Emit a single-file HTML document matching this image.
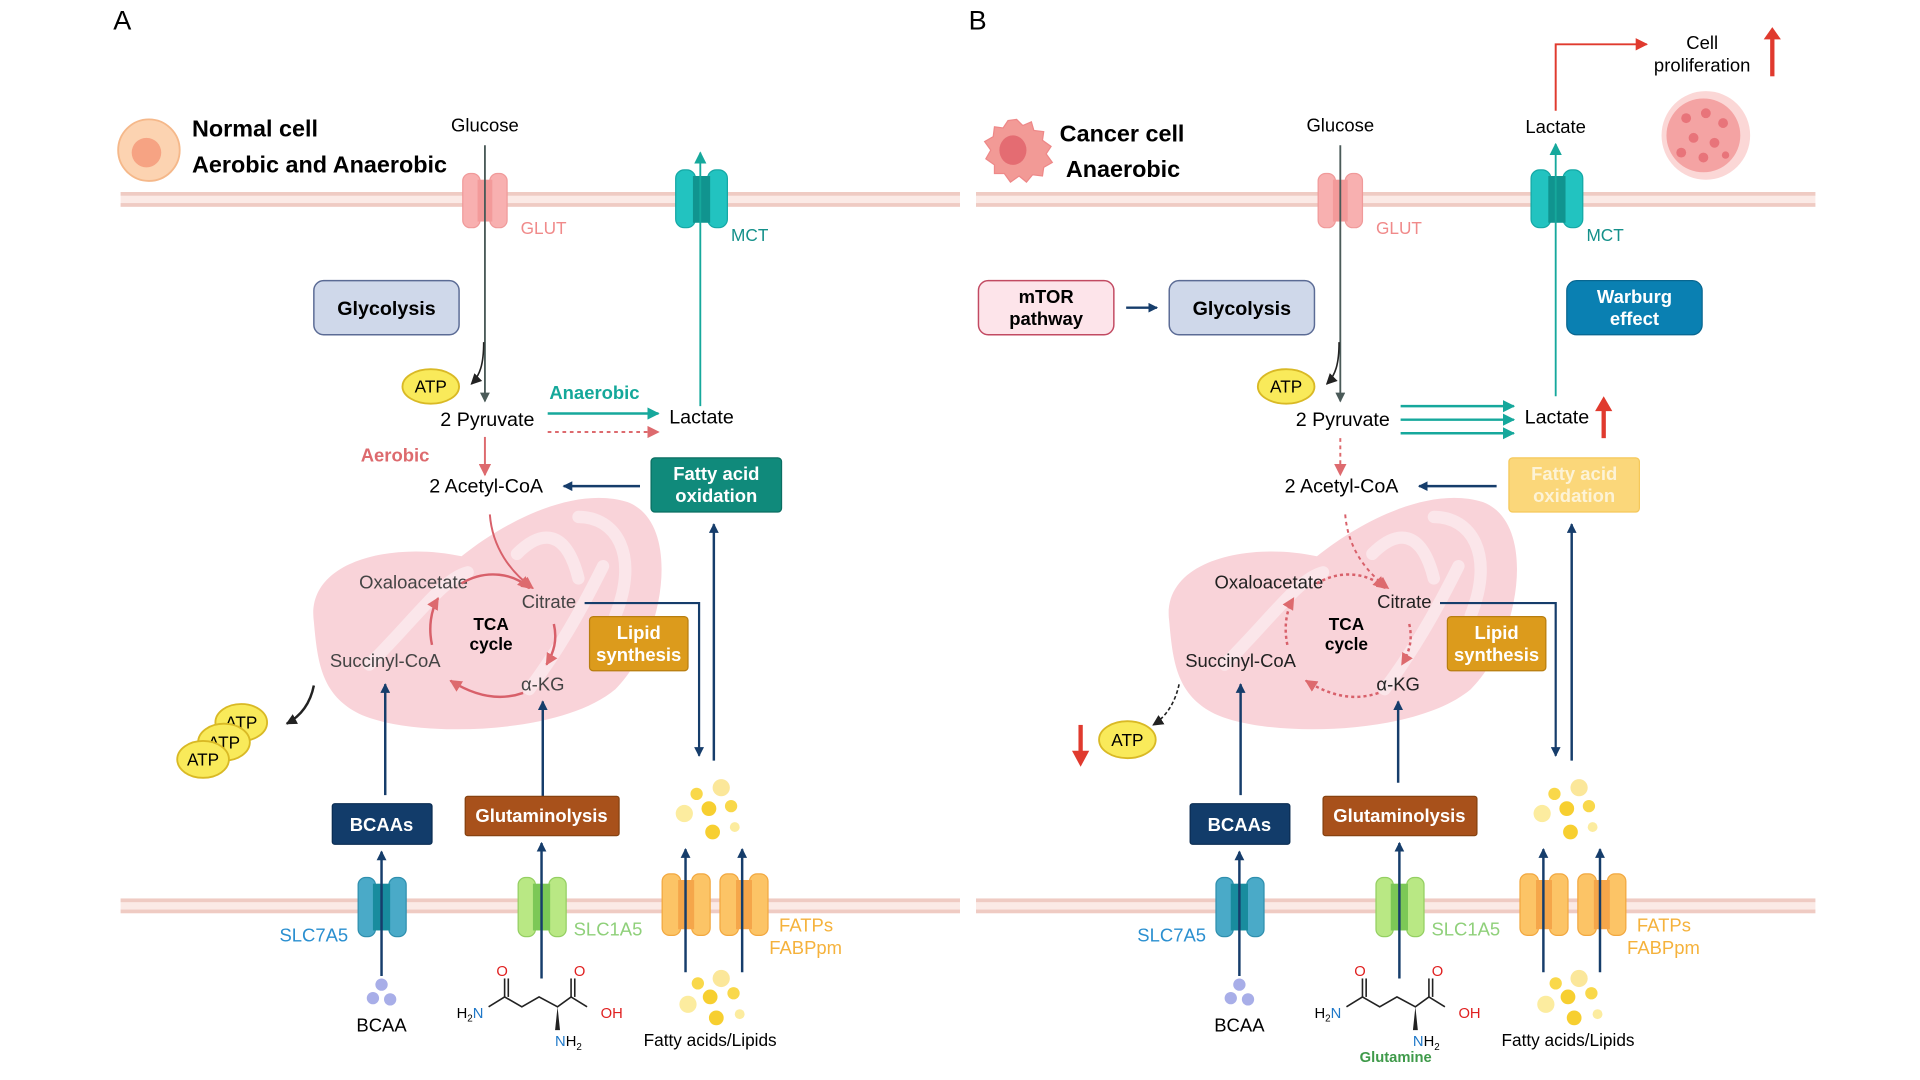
<!DOCTYPE html>
<html><head><meta charset="utf-8">
<style>
html,body{margin:0;padding:0;background:#fff;width:1920px;height:1080px;overflow:hidden}
svg{display:block}
text{font-family:"Liberation Sans",sans-serif}
</style></head>
<body>
<svg width="1920" height="1080" viewBox="0 0 1560 877.5" xmlns="http://www.w3.org/2000/svg">
<defs>
<marker id="aN" markerWidth="8" markerHeight="8" refX="7" refY="4" orient="auto" markerUnits="userSpaceOnUse"><path d="M0,0 L8,4 L0,8 Z" fill="#163d6b"/></marker>
<marker id="aG" markerWidth="8" markerHeight="8" refX="7" refY="4" orient="auto" markerUnits="userSpaceOnUse"><path d="M0,0 L8,4 L0,8 Z" fill="#4a5a58"/></marker>
<marker id="aT" markerWidth="10" markerHeight="10" refX="9" refY="5" orient="auto" markerUnits="userSpaceOnUse"><path d="M0,0 L10,5 L0,10 Z" fill="#16a89c"/></marker>
<marker id="aP" markerWidth="10" markerHeight="10" refX="9" refY="5" orient="auto" markerUnits="userSpaceOnUse"><path d="M0,0 L10,5 L0,10 Z" fill="#dd6a6e"/></marker>
<marker id="aK" markerWidth="9" markerHeight="9" refX="8" refY="4.5" orient="auto" markerUnits="userSpaceOnUse"><path d="M0,0 L9,4.5 L0,9 Z" fill="#222"/></marker>
<marker id="aR" markerWidth="10" markerHeight="10" refX="9" refY="5" orient="auto" markerUnits="userSpaceOnUse"><path d="M0,0 L10,5 L0,10 Z" fill="#e03a2e"/></marker>
</defs>

<!-- ================= PANEL A ================= -->
<text x="92" y="24" font-size="22">A</text>
<!-- membranes -->
<g>
<rect x="98" y="156" width="682" height="12" fill="#fbeae6"/>
<rect x="98" y="156" width="682" height="3" fill="#efcbc3"/>
<rect x="98" y="165" width="682" height="3" fill="#efcbc3"/>
<rect x="98" y="730" width="682" height="12" fill="#fbeae6"/>
<rect x="98" y="730" width="682" height="3" fill="#efcbc3"/>
<rect x="98" y="739" width="682" height="3" fill="#efcbc3"/>
</g>
<circle cx="121" cy="122" r="25" fill="#fcd3b1" stroke="#f5b88a" stroke-width="1.5"/>
<circle cx="119" cy="124" r="12" fill="#f6a383"/>
<text x="156" y="111" font-size="19" font-weight="bold">Normal cell</text>
<text x="156" y="140" font-size="19" font-weight="bold">Aerobic and Anaerobic</text>

<!-- GLUT -->
<rect x="376" y="141" width="14" height="44" rx="6" fill="#f8b0b0" stroke="#f09a9a"/>
<rect x="398" y="141" width="14" height="44" rx="6" fill="#f8b0b0" stroke="#f09a9a"/>
<rect x="388" y="146" width="12" height="34" fill="#f39a9a"/>
<text x="423" y="190" font-size="14" fill="#f08a8a">GLUT</text>
<text x="394" y="107" font-size="15" text-anchor="middle">Glucose</text>
<line x1="394" y1="118" x2="394" y2="326" stroke="#4a5a58" stroke-width="1.5" marker-end="url(#aG)"/>

<!-- MCT -->
<rect x="549" y="138" width="16" height="47" rx="7" fill="#22c3c0" stroke="#14a8a5"/>
<rect x="575" y="138" width="16" height="47" rx="7" fill="#22c3c0" stroke="#14a8a5"/>
<rect x="563" y="143" width="14" height="38" fill="#10948f"/>
<text x="594" y="196" font-size="14" fill="#14908a">MCT</text>
<line x1="569" y1="330" x2="569" y2="124" stroke="#16a89c" stroke-width="1.5" marker-end="url(#aT)"/>

<rect x="255" y="228" width="118" height="44" rx="8" fill="#cfd8ea" stroke="#5b6b95" stroke-width="1.2"/>
<text x="314" y="256" font-size="16" font-weight="bold" text-anchor="middle">Glycolysis</text>

<ellipse cx="350" cy="314" rx="23" ry="14" fill="#f9ea5a" stroke="#d9b925" stroke-width="1.5"/>
<text x="350" y="319" font-size="14" text-anchor="middle">ATP</text>
<path d="M393,278 C393,296 390,305 383,312" fill="none" stroke="#222" stroke-width="1.3" marker-end="url(#aK)"/>

<text x="396" y="346" font-size="16" text-anchor="middle">2 Pyruvate</text>
<text x="483" y="324" font-size="15" font-weight="bold" fill="#14a89a" text-anchor="middle">Anaerobic</text>
<line x1="445" y1="336" x2="535" y2="336" stroke="#16a89c" stroke-width="2" marker-end="url(#aT)"/>
<line x1="445" y1="351" x2="535" y2="351" stroke="#dd6a6e" stroke-width="1.6" stroke-dasharray="3,3" marker-end="url(#aP)"/>
<text x="570" y="344" font-size="16" text-anchor="middle">Lactate</text>
<text x="321" y="375" font-size="15" font-weight="bold" fill="#dd6a6e" text-anchor="middle">Aerobic</text>
<line x1="394" y1="355" x2="394" y2="386" stroke="#dd6a6e" stroke-width="1.6" marker-end="url(#aP)"/>
<text x="395" y="400" font-size="16" text-anchor="middle">2 Acetyl-CoA</text>

<rect x="529" y="372" width="106" height="44" rx="3" fill="#108a7b" stroke="#0a6e62"/>
<text x="582" y="390" font-size="15" font-weight="bold" fill="#fff" text-anchor="middle">Fatty acid</text>
<text x="582" y="408" font-size="15" font-weight="bold" fill="#fff" text-anchor="middle">oxidation</text>
<line x1="520" y1="395" x2="458" y2="395" stroke="#163d6b" stroke-width="2" marker-end="url(#aN)"/>
<line x1="580" y1="618" x2="580" y2="426" stroke="#163d6b" stroke-width="2" marker-end="url(#aN)"/>

<!-- mitochondrion -->
<path d="M255,505 C248,455 320,440 375,452 C415,420 470,395 510,408 C555,425 540,520 500,560 C455,598 335,600 292,580 C262,565 258,540 255,505 Z" fill="#f9d3d9"/>
<path d="M300,540 C340,500 360,470 380,465 M420,450 C440,430 460,430 470,470 M470,420 C500,420 520,450 500,500 M430,560 C460,520 480,480 490,460" fill="none" stroke="#fbe6ea" stroke-width="10" stroke-linecap="round"/>

<path d="M398,418 C400,445 415,465 433,478" fill="none" stroke="#d8606a" stroke-width="1.6" marker-end="url(#aP)"/>
<text x="336" y="478" font-size="15" fill="#444" text-anchor="middle">Oxaloacetate</text>
<text x="446" y="494" font-size="15" fill="#444" text-anchor="middle">Citrate</text>
<text x="399" y="512" font-size="14" font-weight="bold" text-anchor="middle">TCA</text>
<text x="399" y="528" font-size="14" font-weight="bold" text-anchor="middle">cycle</text>
<text x="313" y="542" font-size="15" fill="#444" text-anchor="middle">Succinyl-CoA</text>
<text x="441" y="561" font-size="15" fill="#444" text-anchor="middle">α-KG</text>
<path d="M375,474 C395,462 418,466 430,478" fill="none" stroke="#d8606a" stroke-width="2" marker-end="url(#aP)"/>
<path d="M450,507 C453,520 450,530 444,540" fill="none" stroke="#d8606a" stroke-width="2" marker-end="url(#aP)"/>
<path d="M425,563 C405,570 385,565 366,553" fill="none" stroke="#d8606a" stroke-width="2" marker-end="url(#aP)"/>
<path d="M351,524 C348,510 350,496 356,486" fill="none" stroke="#d8606a" stroke-width="2" marker-end="url(#aP)"/>
<polyline points="475,490 568,490 568,614" fill="none" stroke="#163d6b" stroke-width="1.8" marker-end="url(#aN)"/>
<rect x="479" y="501" width="80" height="44" rx="3" fill="#dc9b1c" stroke="#b87e10"/>
<text x="519" y="519" font-size="15" font-weight="bold" fill="#fff" text-anchor="middle">Lipid</text>
<text x="519" y="537" font-size="15" font-weight="bold" fill="#fff" text-anchor="middle">synthesis</text>

<ellipse cx="196" cy="587" rx="21" ry="15" fill="#f9ea5a" stroke="#d9b925" stroke-width="1.5"/>
<text x="196" y="592" font-size="14" text-anchor="middle">ATP</text>
<ellipse cx="182" cy="603" rx="21" ry="15" fill="#f9ea5a" stroke="#d9b925" stroke-width="1.5"/>
<text x="182" y="608" font-size="14" text-anchor="middle">ATP</text>
<ellipse cx="165" cy="617" rx="21" ry="15" fill="#f9ea5a" stroke="#d9b925" stroke-width="1.5"/>
<text x="165" y="622" font-size="14" text-anchor="middle">ATP</text>
<path d="M255,557 C252,572 244,582 233,588" fill="none" stroke="#222" stroke-width="2" marker-end="url(#aK)"/>

<line x1="313" y1="646" x2="313" y2="556" stroke="#163d6b" stroke-width="2" marker-end="url(#aN)"/>
<line x1="441" y1="650" x2="441" y2="570" stroke="#163d6b" stroke-width="2" marker-end="url(#aN)"/>

<rect x="270" y="653" width="81" height="33" rx="2" fill="#123c6a" stroke="#0a2c52"/>
<text x="310" y="675" font-size="15" font-weight="bold" fill="#fff" text-anchor="middle">BCAAs</text>
<rect x="378" y="647" width="125" height="32" rx="2" fill="#a8511b" stroke="#84400f"/>
<text x="440" y="668" font-size="15" font-weight="bold" fill="#fff" text-anchor="middle">Glutaminolysis</text>

<g fill="#fbe17a">
<circle cx="586" cy="640" r="7" fill="#fbe79a"/><circle cx="566" cy="645" r="5" fill="#f9d84a"/><circle cx="576" cy="657" r="6" fill="#f7cf30"/><circle cx="594" cy="655" r="5" fill="#f9d84a"/><circle cx="556" cy="661" r="7" fill="#fcec9f"/><circle cx="579" cy="676" r="6" fill="#f7cf30"/><circle cx="597" cy="672" r="4" fill="#fcec9f"/>
</g>

<!-- bottom transporters A -->
<rect x="291" y="713" width="14" height="48" rx="6" fill="#4aaac8" stroke="#2f8fae"/>
<rect x="316" y="713" width="14" height="48" rx="6" fill="#4aaac8" stroke="#2f8fae"/>
<rect x="303" y="718" width="14" height="38" fill="#188c9e"/>
<text x="255" y="765" font-size="15" fill="#2a8fd0" text-anchor="middle">SLC7A5</text>
<rect x="421" y="713" width="14" height="48" rx="6" fill="#b9e884" stroke="#94cf62"/>
<rect x="446" y="713" width="14" height="48" rx="6" fill="#b9e884" stroke="#94cf62"/>
<rect x="433" y="718" width="14" height="38" fill="#7cc856"/>
<text x="494" y="760" font-size="15" fill="#8fd07a" text-anchor="middle">SLC1A5</text>
<rect x="538" y="710" width="15" height="50" rx="6" fill="#fcc466" stroke="#f2a840"/>
<rect x="562" y="710" width="15" height="50" rx="6" fill="#fcc466" stroke="#f2a840"/>
<rect x="551" y="715" width="13" height="40" fill="#f5a64a"/>
<rect x="585" y="710" width="15" height="50" rx="6" fill="#fcc466" stroke="#f2a840"/>
<rect x="609" y="710" width="15" height="50" rx="6" fill="#fcc466" stroke="#f2a840"/>
<rect x="598" y="715" width="13" height="40" fill="#f5a64a"/>
<text x="633" y="757" font-size="15" fill="#f5b23c">FATPs</text>
<text x="625" y="775" font-size="15" fill="#f5b23c">FABPpm</text>
<line x1="310" y1="793" x2="310" y2="692" stroke="#163d6b" stroke-width="2" marker-end="url(#aN)"/>
<line x1="440" y1="795" x2="440" y2="685" stroke="#163d6b" stroke-width="2" marker-end="url(#aN)"/>
<line x1="557" y1="790" x2="557" y2="690" stroke="#163d6b" stroke-width="2" marker-end="url(#aN)"/>
<line x1="603" y1="790" x2="603" y2="690" stroke="#163d6b" stroke-width="2" marker-end="url(#aN)"/>
<circle cx="310" cy="800" r="5" fill="#a8aee8"/><circle cx="303" cy="811" r="5" fill="#a8aee8"/><circle cx="317" cy="812" r="5" fill="#a8aee8"/>
<text x="310" y="838" font-size="15" text-anchor="middle">BCAA</text>
<!-- glutamine A -->
<g stroke="#222" stroke-width="1.3" fill="none">
<polyline points="397,818 410,810 424,818 438,810 453,818 464,810 477,818"/>
<line x1="410" y1="810" x2="410" y2="795"/><line x1="413" y1="810" x2="413" y2="795"/>
<line x1="464" y1="810" x2="464" y2="795"/><line x1="467" y1="810" x2="467" y2="795"/>
</g>
<polygon points="453,818 451,837 455,837" fill="#222"/>
<text x="408" y="793" font-size="12" fill="#e02020" text-anchor="middle">O</text>
<text x="471" y="793" font-size="12" fill="#e02020" text-anchor="middle">O</text>
<text x="371" y="827" font-size="12">H<tspan font-size="8" dy="3">2</tspan><tspan fill="#1f78c8" dy="-3">N</tspan></text>
<text x="488" y="827" font-size="12" fill="#e02020">OH</text>
<text x="451" y="850" font-size="12"><tspan fill="#1f78c8">N</tspan>H<tspan font-size="8" dy="3">2</tspan></text>
<circle cx="586" cy="795" r="7" fill="#fbe79a"/><circle cx="567" cy="799" r="5" fill="#f9d84a"/><circle cx="577" cy="810" r="6" fill="#f7cf30"/><circle cx="596" cy="807" r="5" fill="#f9d84a"/><circle cx="559" cy="816" r="7" fill="#fcec9f"/><circle cx="582" cy="827" r="6" fill="#f7cf30"/><circle cx="601" cy="824" r="4" fill="#fcec9f"/>
<text x="577" y="850" font-size="14" text-anchor="middle">Fatty acids/Lipids</text>

<!-- ================= PANEL B ================= -->
<text x="787" y="24" font-size="22">B</text>
<rect x="793" y="156" width="682" height="12" fill="#fbeae6"/>
<rect x="793" y="156" width="682" height="3" fill="#efcbc3"/>
<rect x="793" y="165" width="682" height="3" fill="#efcbc3"/>
<rect x="793" y="730" width="682" height="12" fill="#fbeae6"/>
<rect x="793" y="730" width="682" height="3" fill="#efcbc3"/>
<rect x="793" y="739" width="682" height="3" fill="#efcbc3"/>

<path d="M826,97 L831,102 L838,99 L840,106 L848,107 L847,114 L854,119 L850,125 L855,132 L848,136 L847,143 L839,142 L834,148 L828,143 L821,148 L816,141 L808,141 L808,134 L801,129 L805,122 L800,115 L807,111 L808,103 L815,104 L819,98 Z" fill="#f29a96" stroke="#ee8888"/>
<ellipse cx="823" cy="122" rx="11" ry="12" fill="#e46c72"/>
<text x="861" y="115" font-size="19" font-weight="bold">Cancer cell</text>
<text x="866" y="144" font-size="19" font-weight="bold">Anaerobic</text>

<rect x="1071" y="141" width="14" height="44" rx="6" fill="#f8b0b0" stroke="#f09a9a"/>
<rect x="1093" y="141" width="14" height="44" rx="6" fill="#f8b0b0" stroke="#f09a9a"/>
<rect x="1083" y="146" width="12" height="34" fill="#f39a9a"/>
<text x="1118" y="190" font-size="14" fill="#f08a8a">GLUT</text>
<text x="1089" y="107" font-size="15" text-anchor="middle">Glucose</text>
<line x1="1089" y1="118" x2="1089" y2="326" stroke="#4a5a58" stroke-width="1.5" marker-end="url(#aG)"/>

<rect x="1244" y="138" width="16" height="47" rx="7" fill="#22c3c0" stroke="#14a8a5"/>
<rect x="1270" y="138" width="16" height="47" rx="7" fill="#22c3c0" stroke="#14a8a5"/>
<rect x="1258" y="143" width="14" height="38" fill="#10948f"/>
<text x="1289" y="196" font-size="14" fill="#14908a">MCT</text>
<line x1="1264" y1="322" x2="1264" y2="117" stroke="#16a89c" stroke-width="1.5" marker-end="url(#aT)"/>
<text x="1264" y="108" font-size="15" text-anchor="middle">Lactate</text>
<polyline points="1264,90 1264,36 1338,36" fill="none" stroke="#e03a2e" stroke-width="1.6" marker-end="url(#aR)"/>
<text x="1383" y="40" font-size="15" text-anchor="middle">Cell</text>
<text x="1383" y="58" font-size="15" text-anchor="middle">proliferation</text>
<line x1="1440" y1="62" x2="1440" y2="30" stroke="#e03a2e" stroke-width="3.5"/>
<polygon points="1433,32 1447,32 1440,22" fill="#e03a2e"/>
<!-- tumor -->
<circle cx="1386" cy="110" r="36" fill="#fbd7d6"/>
<circle cx="1384" cy="110" r="30" fill="#f4a3a3"/>
<g fill="#e8747a">
<circle cx="1370" cy="96" r="4"/><circle cx="1386" cy="92" r="4"/><circle cx="1400" cy="100" r="4"/><circle cx="1376" cy="112" r="4"/><circle cx="1393" cy="116" r="4"/><circle cx="1366" cy="124" r="4"/><circle cx="1384" cy="128" r="4"/><circle cx="1402" cy="126" r="3"/>
</g>

<rect x="795" y="228" width="110" height="44" rx="8" fill="#fde4ea" stroke="#c24a62" stroke-width="1.2"/>
<text x="850" y="246" font-size="15" font-weight="bold" text-anchor="middle">mTOR</text>
<text x="850" y="264" font-size="15" font-weight="bold" text-anchor="middle">pathway</text>
<line x1="915" y1="250" x2="940" y2="250" stroke="#163d6b" stroke-width="2" marker-end="url(#aN)"/>
<rect x="950" y="228" width="118" height="44" rx="8" fill="#cfd8ea" stroke="#5b6b95" stroke-width="1.2"/>
<text x="1009" y="256" font-size="16" font-weight="bold" text-anchor="middle">Glycolysis</text>
<rect x="1273" y="228" width="110" height="44" rx="8" fill="#0a80b2" stroke="#086690"/>
<text x="1328" y="246" font-size="15" font-weight="bold" fill="#fff" text-anchor="middle">Warburg</text>
<text x="1328" y="264" font-size="15" font-weight="bold" fill="#fff" text-anchor="middle">effect</text>

<ellipse cx="1045" cy="314" rx="23" ry="14" fill="#f9ea5a" stroke="#d9b925" stroke-width="1.5"/>
<text x="1045" y="319" font-size="14" text-anchor="middle">ATP</text>
<path d="M1088,278 C1088,296 1085,305 1078,312" fill="none" stroke="#222" stroke-width="1.3" marker-end="url(#aK)"/>
<text x="1091" y="346" font-size="16" text-anchor="middle">2 Pyruvate</text>
<line x1="1138" y1="330" x2="1230" y2="330" stroke="#16a89c" stroke-width="2" marker-end="url(#aT)"/>
<line x1="1138" y1="341" x2="1230" y2="341" stroke="#16a89c" stroke-width="2" marker-end="url(#aT)"/>
<line x1="1138" y1="352" x2="1230" y2="352" stroke="#16a89c" stroke-width="2" marker-end="url(#aT)"/>
<text x="1265" y="344" font-size="16" text-anchor="middle">Lactate</text>
<line x1="1303" y1="356" x2="1303" y2="332" stroke="#e03a2e" stroke-width="3.5"/>
<polygon points="1296,334 1310,334 1303,322" fill="#e03a2e"/>
<line x1="1089" y1="356" x2="1089" y2="386" stroke="#dd6a6e" stroke-width="1.6" stroke-dasharray="3,3" marker-end="url(#aP)"/>
<text x="1090" y="400" font-size="16" text-anchor="middle">2 Acetyl-CoA</text>

<rect x="1226" y="372" width="106" height="44" rx="3" fill="#fbd77a" stroke="#f5c85a"/>
<text x="1279" y="390" font-size="15" font-weight="bold" fill="#fdf3d6" text-anchor="middle">Fatty acid</text>
<text x="1279" y="408" font-size="15" font-weight="bold" fill="#fdf3d6" text-anchor="middle">oxidation</text>
<line x1="1216" y1="395" x2="1153" y2="395" stroke="#163d6b" stroke-width="2" marker-end="url(#aN)"/>
<line x1="1277" y1="618" x2="1277" y2="426" stroke="#163d6b" stroke-width="2" marker-end="url(#aN)"/>

<path d="M950,505 C943,455 1015,440 1070,452 C1110,420 1165,395 1205,408 C1250,425 1235,520 1195,560 C1150,598 1030,600 987,580 C957,565 953,540 950,505 Z" fill="#f9d3d9"/>
<path d="M995,540 C1035,500 1055,470 1075,465 M1115,450 C1135,430 1155,430 1165,470 M1165,420 C1195,420 1215,450 1195,500 M1125,560 C1155,520 1175,480 1185,460" fill="none" stroke="#fbe6ea" stroke-width="10" stroke-linecap="round"/>

<path d="M1093,418 C1095,445 1110,465 1128,478" fill="none" stroke="#d8606a" stroke-width="1.6" stroke-dasharray="3,3" marker-end="url(#aP)"/>
<text x="1031" y="478" font-size="15" fill="#222" text-anchor="middle">Oxaloacetate</text>
<text x="1141" y="494" font-size="15" fill="#222" text-anchor="middle">Citrate</text>
<text x="1094" y="512" font-size="14" font-weight="bold" text-anchor="middle">TCA</text>
<text x="1094" y="528" font-size="14" font-weight="bold" text-anchor="middle">cycle</text>
<text x="1008" y="542" font-size="15" fill="#222" text-anchor="middle">Succinyl-CoA</text>
<text x="1136" y="561" font-size="15" fill="#222" text-anchor="middle">α-KG</text>
<path d="M1070,474 C1090,462 1113,466 1125,478" fill="none" stroke="#d8606a" stroke-width="2" stroke-dasharray="2.5,2.5" marker-end="url(#aP)"/>
<path d="M1145,507 C1148,520 1145,530 1139,540" fill="none" stroke="#d8606a" stroke-width="2" stroke-dasharray="2.5,2.5" marker-end="url(#aP)"/>
<path d="M1120,563 C1100,570 1080,565 1061,553" fill="none" stroke="#d8606a" stroke-width="2" stroke-dasharray="2.5,2.5" marker-end="url(#aP)"/>
<path d="M1046,524 C1043,510 1045,496 1051,486" fill="none" stroke="#d8606a" stroke-width="2" stroke-dasharray="2.5,2.5" marker-end="url(#aP)"/>
<polyline points="1170,490 1264,490 1264,614" fill="none" stroke="#163d6b" stroke-width="1.8" marker-end="url(#aN)"/>
<rect x="1176" y="501" width="80" height="44" rx="3" fill="#dc9b1c" stroke="#b87e10"/>
<text x="1216" y="519" font-size="15" font-weight="bold" fill="#fff" text-anchor="middle">Lipid</text>
<text x="1216" y="537" font-size="15" font-weight="bold" fill="#fff" text-anchor="middle">synthesis</text>

<ellipse cx="916" cy="601" rx="23" ry="15" fill="#f9ea5a" stroke="#d9b925" stroke-width="1.5"/>
<text x="916" y="606" font-size="14" text-anchor="middle">ATP</text>
<path d="M958,556 C955,570 948,582 937,589" fill="none" stroke="#222" stroke-width="1.3" stroke-dasharray="3,2" marker-end="url(#aK)"/>
<line x1="878" y1="589" x2="878" y2="612" stroke="#e03a2e" stroke-width="3.5"/>
<polygon points="871,610 885,610 878,623" fill="#e03a2e"/>

<line x1="1008" y1="646" x2="1008" y2="556" stroke="#163d6b" stroke-width="2" marker-end="url(#aN)"/>
<line x1="1136" y1="636" x2="1136" y2="570" stroke="#163d6b" stroke-width="2" marker-end="url(#aN)"/>
<rect x="967" y="653" width="81" height="33" rx="2" fill="#123c6a" stroke="#0a2c52"/>
<text x="1007" y="675" font-size="15" font-weight="bold" fill="#fff" text-anchor="middle">BCAAs</text>
<rect x="1075" y="647" width="125" height="32" rx="2" fill="#a8511b" stroke="#84400f"/>
<text x="1137" y="668" font-size="15" font-weight="bold" fill="#fff" text-anchor="middle">Glutaminolysis</text>
<circle cx="1283" cy="640" r="7" fill="#fbe79a"/><circle cx="1263" cy="645" r="5" fill="#f9d84a"/><circle cx="1273" cy="657" r="6" fill="#f7cf30"/><circle cx="1291" cy="655" r="5" fill="#f9d84a"/><circle cx="1253" cy="661" r="7" fill="#fcec9f"/><circle cx="1276" cy="676" r="6" fill="#f7cf30"/><circle cx="1294" cy="672" r="4" fill="#fcec9f"/>

<rect x="988" y="713" width="14" height="48" rx="6" fill="#4aaac8" stroke="#2f8fae"/>
<rect x="1013" y="713" width="14" height="48" rx="6" fill="#4aaac8" stroke="#2f8fae"/>
<rect x="1000" y="718" width="14" height="38" fill="#188c9e"/>
<text x="952" y="765" font-size="15" fill="#2a8fd0" text-anchor="middle">SLC7A5</text>
<rect x="1118" y="713" width="14" height="48" rx="6" fill="#b9e884" stroke="#94cf62"/>
<rect x="1143" y="713" width="14" height="48" rx="6" fill="#b9e884" stroke="#94cf62"/>
<rect x="1130" y="718" width="14" height="38" fill="#7cc856"/>
<text x="1191" y="760" font-size="15" fill="#8fd07a" text-anchor="middle">SLC1A5</text>
<rect x="1235" y="710" width="15" height="50" rx="6" fill="#fcc466" stroke="#f2a840"/>
<rect x="1259" y="710" width="15" height="50" rx="6" fill="#fcc466" stroke="#f2a840"/>
<rect x="1248" y="715" width="13" height="40" fill="#f5a64a"/>
<rect x="1282" y="710" width="15" height="50" rx="6" fill="#fcc466" stroke="#f2a840"/>
<rect x="1306" y="710" width="15" height="50" rx="6" fill="#fcc466" stroke="#f2a840"/>
<rect x="1295" y="715" width="13" height="40" fill="#f5a64a"/>
<text x="1330" y="757" font-size="15" fill="#f5b23c">FATPs</text>
<text x="1322" y="775" font-size="15" fill="#f5b23c">FABPpm</text>
<line x1="1007" y1="793" x2="1007" y2="692" stroke="#163d6b" stroke-width="2" marker-end="url(#aN)"/>
<line x1="1137" y1="795" x2="1137" y2="685" stroke="#163d6b" stroke-width="2" marker-end="url(#aN)"/>
<line x1="1254" y1="790" x2="1254" y2="690" stroke="#163d6b" stroke-width="2" marker-end="url(#aN)"/>
<line x1="1300" y1="790" x2="1300" y2="690" stroke="#163d6b" stroke-width="2" marker-end="url(#aN)"/>
<circle cx="1007" cy="800" r="5" fill="#a8aee8"/><circle cx="1000" cy="811" r="5" fill="#a8aee8"/><circle cx="1014" cy="812" r="5" fill="#a8aee8"/>
<text x="1007" y="838" font-size="15" text-anchor="middle">BCAA</text>
<g stroke="#222" stroke-width="1.3" fill="none">
<polyline points="1094,818 1107,810 1121,818 1135,810 1150,818 1161,810 1174,818"/>
<line x1="1107" y1="810" x2="1107" y2="795"/><line x1="1110" y1="810" x2="1110" y2="795"/>
<line x1="1161" y1="810" x2="1161" y2="795"/><line x1="1164" y1="810" x2="1164" y2="795"/>
</g>
<polygon points="1150,818 1148,837 1152,837" fill="#222"/>
<text x="1105" y="793" font-size="12" fill="#e02020" text-anchor="middle">O</text>
<text x="1168" y="793" font-size="12" fill="#e02020" text-anchor="middle">O</text>
<text x="1068" y="827" font-size="12">H<tspan font-size="8" dy="3">2</tspan><tspan fill="#1f78c8" dy="-3">N</tspan></text>
<text x="1185" y="827" font-size="12" fill="#e02020">OH</text>
<text x="1148" y="850" font-size="12"><tspan fill="#1f78c8">N</tspan>H<tspan font-size="8" dy="3">2</tspan></text>
<text x="1134" y="863" font-size="12" font-weight="bold" fill="#3f9a4a" text-anchor="middle">Glutamine</text>
<circle cx="1283" cy="795" r="7" fill="#fbe79a"/><circle cx="1264" cy="799" r="5" fill="#f9d84a"/><circle cx="1274" cy="810" r="6" fill="#f7cf30"/><circle cx="1293" cy="807" r="5" fill="#f9d84a"/><circle cx="1256" cy="816" r="7" fill="#fcec9f"/><circle cx="1279" cy="827" r="6" fill="#f7cf30"/><circle cx="1298" cy="824" r="4" fill="#fcec9f"/>
<text x="1274" y="850" font-size="14" text-anchor="middle">Fatty acids/Lipids</text>
</svg>
</body></html>
